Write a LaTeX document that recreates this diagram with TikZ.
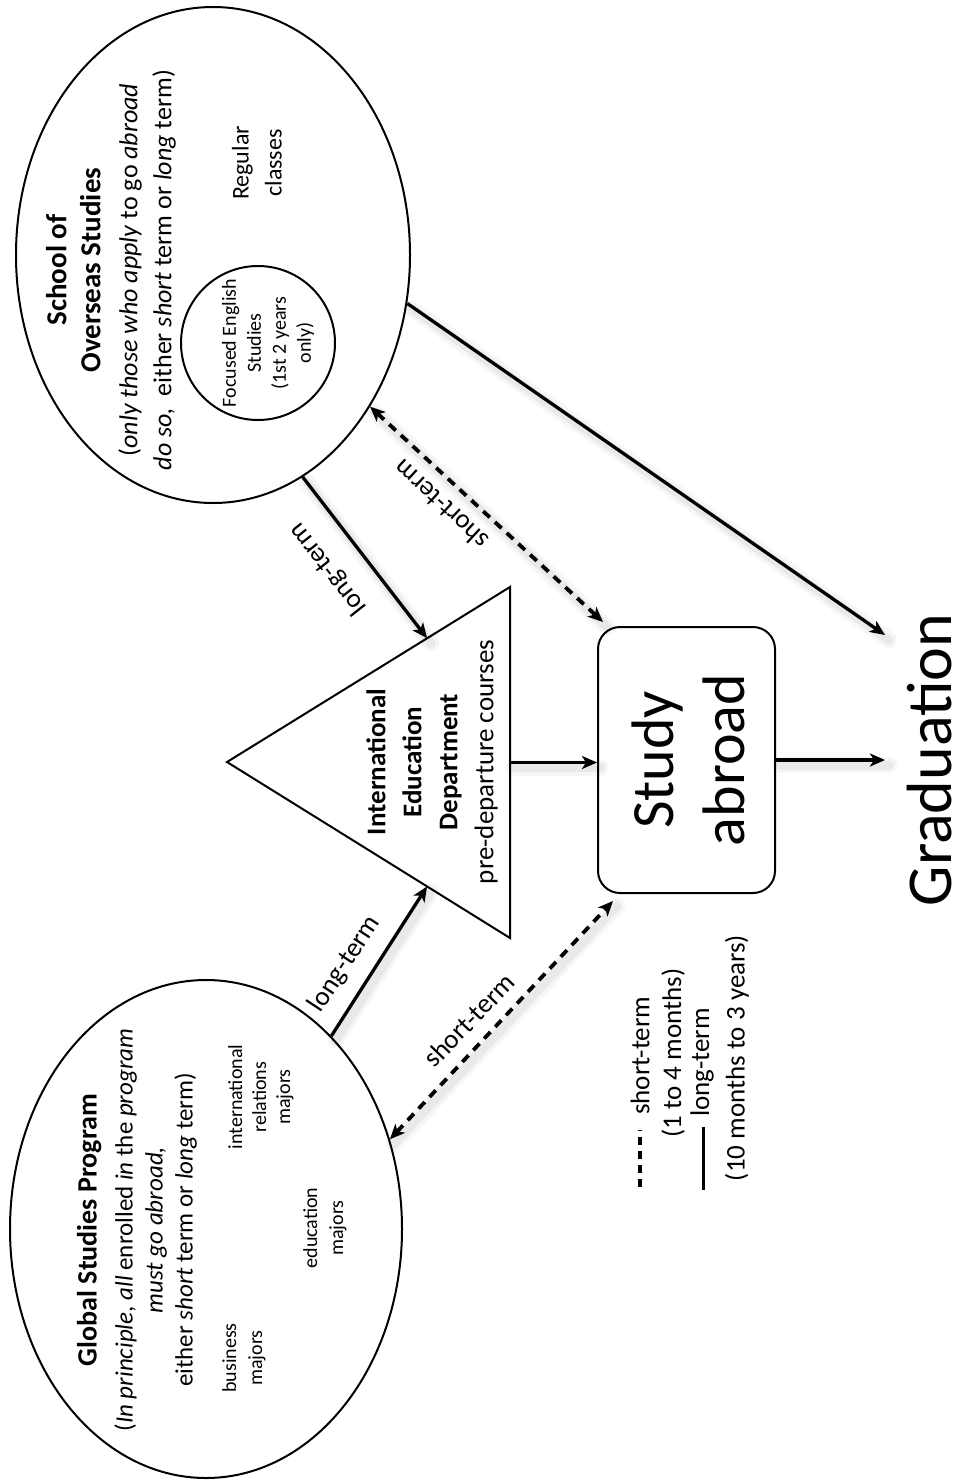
\documentclass[tikz,border=0pt]{standalone}
\usepackage{fontspec}
\setmainfont{Carlito}
\usetikzlibrary{shapes.geometric,arrows.meta,calc}
\begin{document}
\begin{tikzpicture}[x=1pt,y=-1pt,
  outline/.style={draw=black, line width=2pt},
  txt/.style={rotate=90, align=center, inner sep=0pt},
  arr/.style={line width=3.3pt, -{Stealth[length=15pt,width=13pt,inset=4pt]}},
  dasharr/.style={line width=3.8pt, dash pattern=on 9pt off 7pt,
    {Stealth[length=15pt,width=13pt,inset=4pt]}-{Stealth[length=15pt,width=13pt,inset=4pt]}},
  shadowed/.style={
    preaction={draw=black, opacity=0.035, line width=16pt, solid, arrows=-, line cap=round,
      transform canvas={shift={(4pt,-5pt)}}},
    preaction={draw=black, opacity=0.05, line width=9pt, solid, arrows=-, line cap=round,
      transform canvas={shift={(4pt,-5pt)}}}},
  lbl/.style={inner sep=0pt, font=\fontsize{27}{32}\selectfont},
]
\fill[white] (0,0) rectangle (964,1481);
\useasboundingbox (0,0) rectangle (964,1481);

% School of Overseas Studies
\node[ellipse, outline, minimum width=394pt, minimum height=496pt, inner sep=0pt] (sos) at (213,255) {};
\node[circle, outline, minimum size=154pt, inner sep=0pt] (fes) at (258,343) {};
\node[txt, font=\fontsize{26}{34}\selectfont] (sostext) at (111,270)
  {{\bfseries\fontsize{29}{34}\selectfont School of}\\
   {\bfseries\fontsize{29}{34}\selectfont Overseas Studies}\\[3pt]
   (\textit{only those who apply} to go \textit{abroad}\\
   \textit{do so,}\ \ either \textit{short} term or \textit{long} term)};
\node[txt, font=\fontsize{24}{33}\selectfont] (reg) at (257,163) {Regular\\classes};
\node[txt, font=\fontsize{20}{25}\selectfont] (festext) at (268,343) {Focused English\\Studies\\(1st 2 years\\only)};

% International Education Department
\coordinate (tapex) at (227,762);
\coordinate (ttop) at (510,587);
\coordinate (tbot) at (510,938);
\draw[outline, line join=miter] (tapex) -- (ttop) -- (tbot) -- cycle;
\coordinate (tbase) at ($(ttop)!0.5!(tbot)$);
\coordinate (tin1) at ($(tapex)!0.707!(ttop)$);
\coordinate (tin2) at ($(tapex)!0.707!(tbot)$);
\node[txt, font=\fontsize{27}{36}\selectfont] (iedtext) at (432,762)
  {\textbf{International}\\\textbf{Education}\\\textbf{Department}\\pre-departure courses};

% Study abroad
\node[draw=black, line width=2pt, rounded corners=22pt, minimum width=177pt, minimum height=266pt, inner sep=0pt] (sa) at (686.5,760) {};
\node[txt, font=\fontsize{60}{71}\selectfont] (satext) at (688,760) {Study\\abroad};

% Graduation
\node[rotate=90, anchor=north, inner sep=0pt, font=\fontsize{64}{70}\selectfont] (grad) at (907,760) {Graduation};

% Global Studies Program
\node[ellipse, outline, minimum width=392pt, minimum height=498pt, inner sep=0pt] (gsp) at (206,1229) {};
\node[txt, font=\fontsize{25}{30}\selectfont] (gsptext) at (137,1230)
  {{\bfseries\fontsize{28}{34}\selectfont Global Studies Program}\\[6pt]
   (\textit{In principle}, \textit{all} enrolled \textit{in} the \textit{program}\\
   \textit{must go abroad,}\\
   either \textit{short} term or \textit{long} term)};
\node[txt, font=\fontsize{20}{26}\selectfont] (bus) at (244,1358) {business\\majors};
\node[txt, font=\fontsize{20}{26}\selectfont] (edu) at (325,1228) {education\\majors};
\node[txt, font=\fontsize{20}{24}\selectfont] (ir) at (261,1097) {international\\relations\\majors};

% connectors
\draw[arr, shadowed] (sos.-14.6) -- ([shift={(-22pt,125pt)}]grad.north);
\draw[arr, shadowed] (sa.east) -- ([xshift=-22pt]grad.north);
\draw[arr, shadowed] (tbase) -- (tbase -| sa.west);
\draw[arr, shadowed] (sos.-68.6) -- (tin1);
\draw[arr, shadowed] (gsp.57.6) -- (tin2);
\draw[dasharr, shadowed] (sos.-44.1) -- ([shift={(6pt,4pt)}]sa.north west);
\draw[dasharr, shadowed] (gsp.26.9) -- ([shift={(16pt,-7pt)}]sa.south west);

% connector labels
\node[lbl, rotate=128.3] (lt1) at (328,569) {long-term};
\node[lbl, rotate=137.3] (st1) at (441,505) {short-term};
\node[lbl, rotate=56.6] (lt2) at (345,964) {long-term};
\node[lbl, rotate=46.1] (st2) at (469,1020) {short-term};

% legend
\draw[line width=3.5pt, dash pattern=on 8pt off 6pt] (640,1187) -- (640,1130);
\node[txt, anchor=west, font=\fontsize{27}{32}\selectfont] (lg1) at (640,1115) {short-term};
\node[txt, font=\fontsize{27}{32}\selectfont] (lg2) at (673,1053) {(1 to 4 months)};
\draw[line width=3pt] (703,1190) -- (703,1127);
\node[txt, anchor=west, font=\fontsize{27}{32}\selectfont] (lg3) at (702,1117) {long-term};
\node[txt, font=\fontsize{27}{32}\selectfont] (lg4) at (737,1058) {(10 months to 3 years)};
\end{tikzpicture}
\end{document}
